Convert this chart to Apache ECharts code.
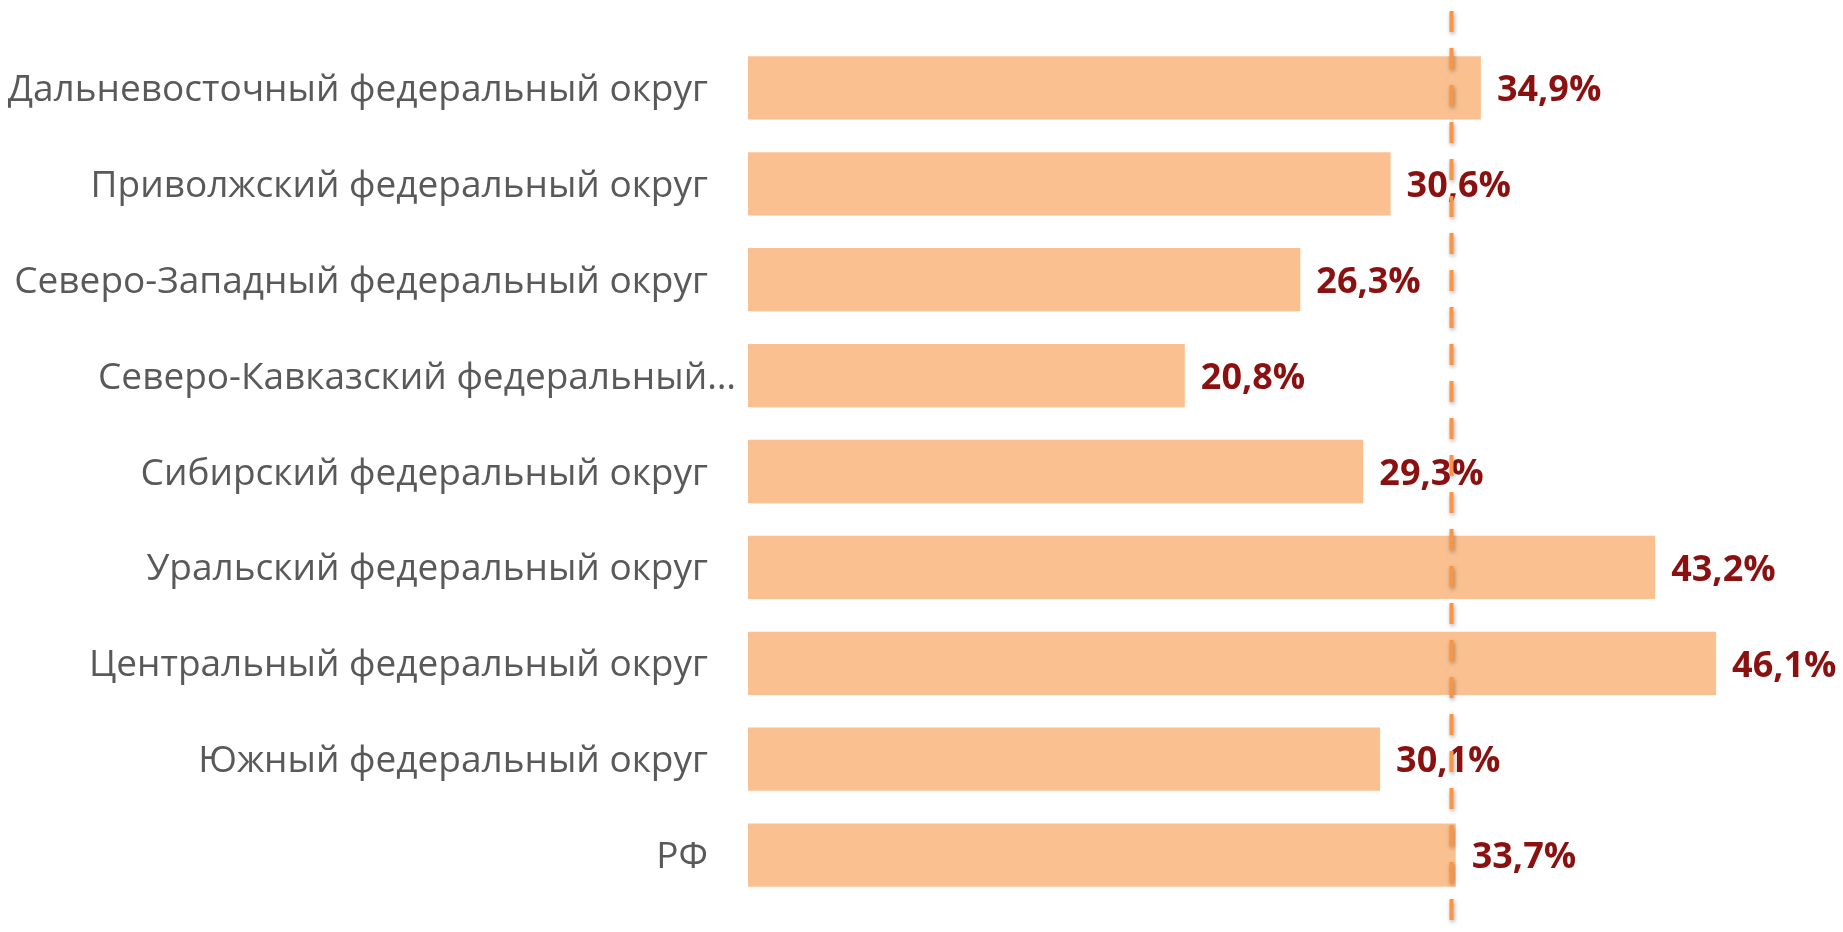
<!DOCTYPE html>
<html><head><meta charset="utf-8">
<script src="https://cdn.jsdelivr.net/npm/echarts@6/dist/echarts.min.js"></script>
<style>html,body{margin:0;padding:0;background:#fff}#c{width:1843px;height:932px}</style>
</head><body><div id="c"></div>
<script>
const categories = ["Дальневосточный федеральный округ","Приволжский федеральный округ","Северо-Западный федеральный округ","Северо-Кавказский федеральный округ","Сибирский федеральный округ","Уральский федеральный округ","Центральный федеральный округ","Южный федеральный округ","РФ"];
const values = [34.9, 30.6, 26.3, 20.8, 29.3, 43.2, 46.1, 30.1, 33.7];
const refLineValue = 33.5;

const chart = echarts.init(document.getElementById('c'), null, {renderer:'canvas'});
const FONT = '"Open Sans", sans-serif';
chart.setOption({
  animation: false,
  grid: [
    {left: 748, right: 45, top: 40, bottom: 29},
    {left: 748, right: 45, top: 11, bottom: 0}
  ],
  xAxis: [
    {gridIndex: 0, type: 'value', min: 0, max: 50, show: false},
    {gridIndex: 1, type: 'value', min: 0, max: 50, show: false}
  ],
  yAxis: [
    {gridIndex: 0, type: 'category', data: categories, inverse: true,
     axisLine: {show: false}, axisTick: {show: false}, splitLine: {show: false},
     axisLabel: {
       margin: 12, color: '#595959', fontFamily: FONT, fontSize: 37,
       formatter: function (v) {
         if (v.length > 33 && v.indexOf('Кавказ') >= 0) return '{b|Северо-Кавказский федеральный…}';
         return '{a|' + v + '}';
       },
       rich: {
         a: {color: '#595959', fontFamily: FONT, fontSize: 37, padding: [5, 28, 0, 0]},
         b: {color: '#595959', fontFamily: FONT, fontSize: 37, padding: [5, 0, 0, 0]}
       }
     }},
    {gridIndex: 1, type: 'value', min: 0, max: 1, show: false}
  ],
  series: [
    {type: 'bar', xAxisIndex: 0, yAxisIndex: 0, data: values, barCategoryGap: '34%',
     itemStyle: {color: '#FAC090'},
     label: {show: true, position: 'right', distance: 16, color: '#8B1111', offset: [0, 3],
       fontFamily: FONT, fontWeight: 'bold', fontSize: 36,
       formatter: p => p.value.toFixed(1).replace('.', ',') + '%'}},
    {type: 'line', xAxisIndex: 1, yAxisIndex: 1, data: [[refLineValue, 1], [refLineValue, 0]],
     symbol: 'none', silent: true, z: 5,
     lineStyle: {color: '#F79646', width: 4, type: [21, 16],
       shadowColor: 'rgba(0,0,0,0.35)', shadowBlur: 4, shadowOffsetX: 1, shadowOffsetY: 2}}
  ]
});
</script></body></html>
